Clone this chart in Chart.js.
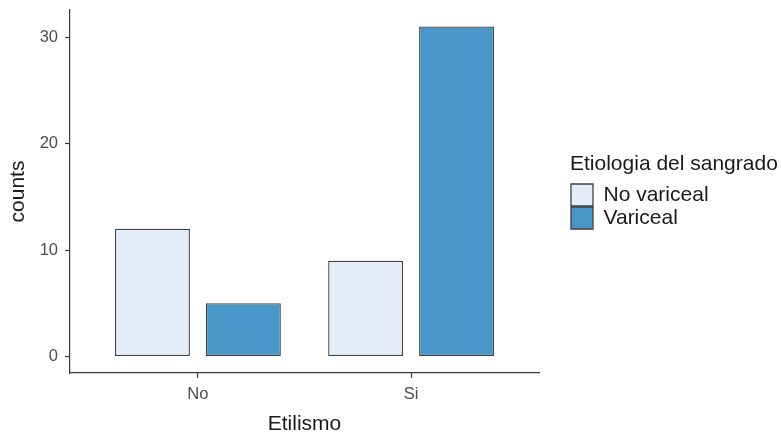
<!DOCTYPE html>
<html>
<head>
<meta charset="utf-8">
<script src="https://cdn.jsdelivr.net/npm/chart.js@4/dist/chart.umd.min.js"></script>
<style>
    body { margin: 0; background: #ffffff; }
    #caja { width: 781px; height: 435px; }
</style>
</head>
<body>
<div id="caja"><canvas id="grafica" width="781" height="435"></canvas></div>
<script>
/* ===============================
   DATOS
================================= */
const categorias = ["No", "Si"];
const noVariceal = [12, 9];
const variceal = [5, 31];
const ticksY = [0, 10, 20, 30];

const FUENTE = "'Liberation Sans', Arial, Helvetica, sans-serif";
const BORDE = "#404040";
const EJE = "#3a3a3a";

function puntos(valores) {
    return valores.map((v, i) => ({ x: i + 1, y: v }));
}

/* ===============================
   LEYENDA A LA DERECHA
================================= */
const leyendaDerecha = {
    id: "leyendaDerecha",
    beforeLayout(chart) {
        let ley = chart.legend;
        if (ley && !ley._fijada) {
            let fitOriginal = ley.fit;
            ley.fit = function () {
                fitOriginal.call(this);
                this.width = 242;
            };
            ley._fijada = true;
        }
    },
    afterLayout(chart) {
        chart.legend.left += 31;
    }
};

let ctx = document.getElementById("grafica").getContext("2d");

new Chart(ctx, {
    type: "bar",
    data: {
        datasets: [{
            label: "No variceal",
            data: puntos(noVariceal),
            backgroundColor: "#E3EDF8",
            borderColor: BORDE,
            borderWidth: 1.3,
            borderSkipped: false
        }, {
            label: "Variceal",
            data: puntos(variceal),
            backgroundColor: "#4896C8",
            borderColor: BORDE,
            borderWidth: 1.3,
            borderSkipped: false
        }]
    },
    options: {
        responsive: false,
        animation: false,
        categoryPercentage: 0.853,
        barPercentage: 0.824,
        layout: {
            padding: { top: 10, left: 0, right: 0, bottom: 0 }
        },
        plugins: {
            tooltip: { enabled: false },
            legend: {
                position: "right",
                align: "start",
                fullSize: false,
                title: {
                    display: true,
                    text: "Etiologia del sangrado",
                    position: "start",
                    color: "#1a1a1a",
                    font: { family: FUENTE, size: 21, lineHeight: 1 },
                    padding: { top: 144, bottom: 8 }
                },
                labels: {
                    boxWidth: 22,
                    boxHeight: 22,
                    padding: 1,
                    color: "#1a1a1a",
                    font: { family: FUENTE, size: 21 }
                }
            }
        },
        scales: {
            x: {
                type: "linear",
                min: 0.4,
                max: 2.6,
                offset: false,
                afterBuildTicks: (eje) => {
                    eje.ticks = categorias.map((c, i) => ({ value: i + 1 }));
                },
                afterFit: (eje) => {
                    eje.height = 62;
                    eje.paddingLeft = 0;
                    eje.paddingRight = 0;
                },
                ticks: {
                    color: "#4d4d4d",
                    padding: 7,
                    maxRotation: 0,
                    autoSkip: false,
                    font: { family: FUENTE, size: 16.5 },
                    callback: (valor) => categorias[valor - 1]
                },
                grid: {
                    offset: false,
                    drawOnChartArea: false,
                    drawTicks: true,
                    tickLength: 5,
                    tickColor: EJE,
                    tickWidth: 1.2
                },
                border: { display: true, color: EJE, width: 1.2 },
                title: {
                    display: true,
                    text: "Etilismo",
                    color: "#1a1a1a",
                    font: { family: FUENTE, size: 21, lineHeight: 1 },
                    padding: { top: 0, bottom: 0 }
                }
            },
            y: {
                type: "linear",
                min: -1.55,
                max: 32.55,
                afterBuildTicks: (eje) => {
                    eje.ticks = ticksY.map(v => ({ value: v }));
                },
                afterFit: (eje) => {
                    eje.width = 70;
                    eje.paddingTop = 0;
                    eje.paddingBottom = 0;
                },
                ticks: {
                    color: "#4d4d4d",
                    padding: 7,
                    font: { family: FUENTE, size: 16.5 }
                },
                grid: {
                    drawOnChartArea: false,
                    drawTicks: true,
                    tickLength: 5,
                    tickColor: EJE,
                    tickWidth: 1.2
                },
                border: { display: true, color: EJE, width: 1.2 },
                title: {
                    display: true,
                    text: "counts",
                    color: "#1a1a1a",
                    font: { family: FUENTE, size: 21, lineHeight: 1 },
                    padding: { top: 8, bottom: 0 }
                }
            }
        }
    },
    plugins: [leyendaDerecha]
});
</script>
</body>
</html>
